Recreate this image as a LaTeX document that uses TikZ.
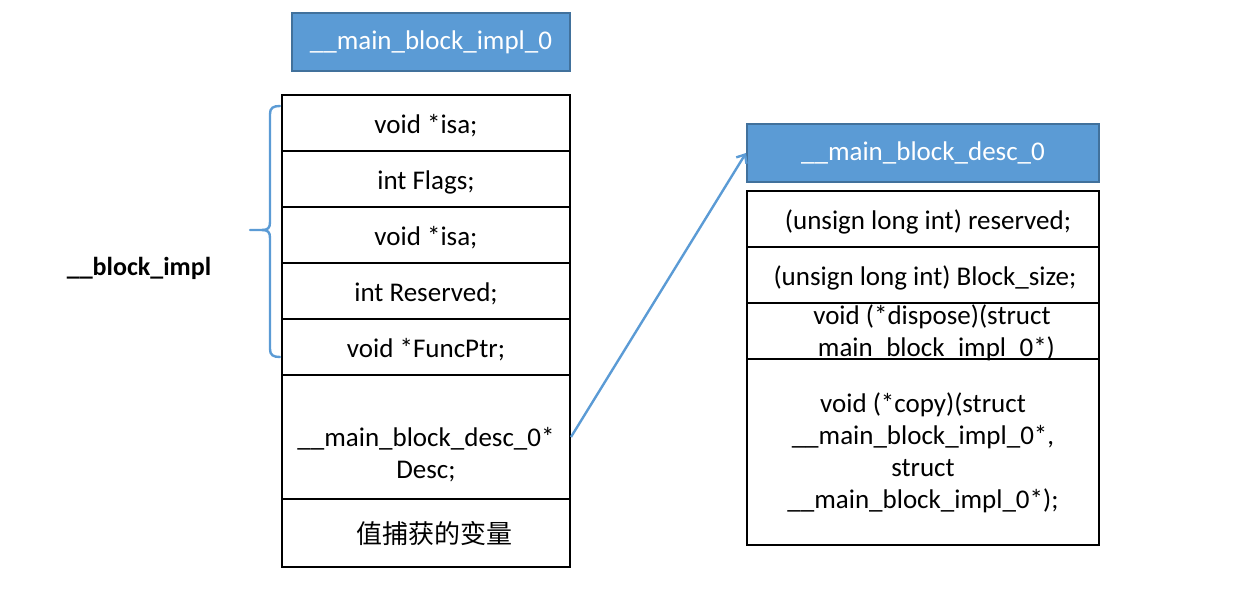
\documentclass[tikz,border=0pt]{standalone}
\usepackage{fontspec}
\setmainfont{Carlito}
\newfontfamily\cjk{Noto Sans CJK SC}
\usetikzlibrary{arrows.meta}
\definecolor{hdrfill}{HTML}{5B9BD5}
\definecolor{hdrline}{HTML}{41719C}
\definecolor{acc}{HTML}{5B9BD5}
\tikzset{
  hdr/.style={draw=hdrline, fill=hdrfill, line width=2pt, text=white, inner sep=0pt, anchor=north west},
  cell/.style={draw=black, line width=2pt, inner sep=0pt, anchor=north west},
  txt/.style={inner sep=0pt, align=center, yshift=-3pt, font=\fontsize{27}{32}\selectfont},
  acl/.style={draw=acc, line width=2.4pt},
}
\begin{document}
\begin{tikzpicture}[x=1pt, y=-1pt, font=\fontsize{27}{32}\selectfont]
\useasboundingbox (0,0) rectangle (1256,604);
% left header
\node[hdr, minimum width=278pt, minimum height=58pt] (h1) at (291,12) {\raisebox{-3pt}{\_\_main\_block\_impl\_0}};
% left table cells
\node[cell, minimum width=288pt, minimum height=56pt] (l1) at (281,94) {};
\node[cell, minimum width=288pt, minimum height=56pt] (l2) at (281,150) {};
\node[cell, minimum width=288pt, minimum height=56pt] (l3) at (281,206) {};
\node[cell, minimum width=288pt, minimum height=56pt] (l4) at (281,262) {};
\node[cell, minimum width=288pt, minimum height=56pt] (l5) at (281,318) {};
\node[cell, minimum width=288pt, minimum height=124pt] (l6) at (281,374) {};
\node[cell, minimum width=288pt, minimum height=68pt] (l7) at (281,498) {};
\node[txt] (t1) at (l1.center) {void *isa;};
\node[txt] (t2) at (l2.center) {int Flags;};
\node[txt] (t3) at (l3.center) {void *isa;};
\node[txt] (t4) at (l4.center) {int Reserved;};
\node[txt] (t5) at (l5.center) {void *FuncPtr;};
\node[txt] (t6) at ([yshift=-15pt]l6.center) {\_\_main\_block\_desc\_0*\\Desc;};
\node[txt, font=\cjk\fontsize{26}{30}\selectfont] (t7) at ([xshift=8pt,yshift=2pt]l7.center) {值捕获的变量};
% brace
\draw[acl, line cap=round] (280,106) .. controls (273,106) and (270,108) .. (270,114)
  -- (270,222) .. controls (270,228) and (268,230) .. (262,230) -- (250,230);
\draw[acl, line cap=round] (280,357) .. controls (273,357) and (270,355) .. (270,349)
  -- (270,238) .. controls (270,232) and (268,230) .. (262,230);
\node[txt, font=\bfseries\fontsize{26}{32}\selectfont] (bi) at (139,265) {\_\_block\_impl};
% right header
\node[hdr, minimum width=352pt, minimum height=58pt] (h2) at (746,123) {\raisebox{-3pt}{\_\_main\_block\_desc\_0}};
% right table
\node[cell, minimum width=352pt, minimum height=56pt] (r1) at (746,190) {};
\node[cell, minimum width=352pt, minimum height=56pt] (r2) at (746,246) {};
\node[cell, minimum width=352pt, minimum height=56pt] (r3) at (746,302) {};
\node[cell, minimum width=352pt, minimum height=186pt] (r4) at (746,358) {};
\node[txt] (s1) at ([xshift=5pt]r1.center) {(unsign long int) reserved;};
\node[txt] (s2) at ([xshift=2pt]r2.center) {(unsign long int) Block\_size;};
\node[txt] (s3) at ([yshift=1pt]r3.center) {\hspace*{18pt}void (*dispose)(struct\\\_\_main\_block\_impl\_0*)};
\node[txt] (s4) at ([yshift=2pt]r4.center) {void (*copy)(struct\\\_\_main\_block\_impl\_0*,\\struct\\\_\_main\_block\_impl\_0*);};
% arrow
\draw[acl, -{Straight Barb[length=7pt, width=12pt]}] (l6.east) -- (h2.west);
\end{tikzpicture}
\end{document}
